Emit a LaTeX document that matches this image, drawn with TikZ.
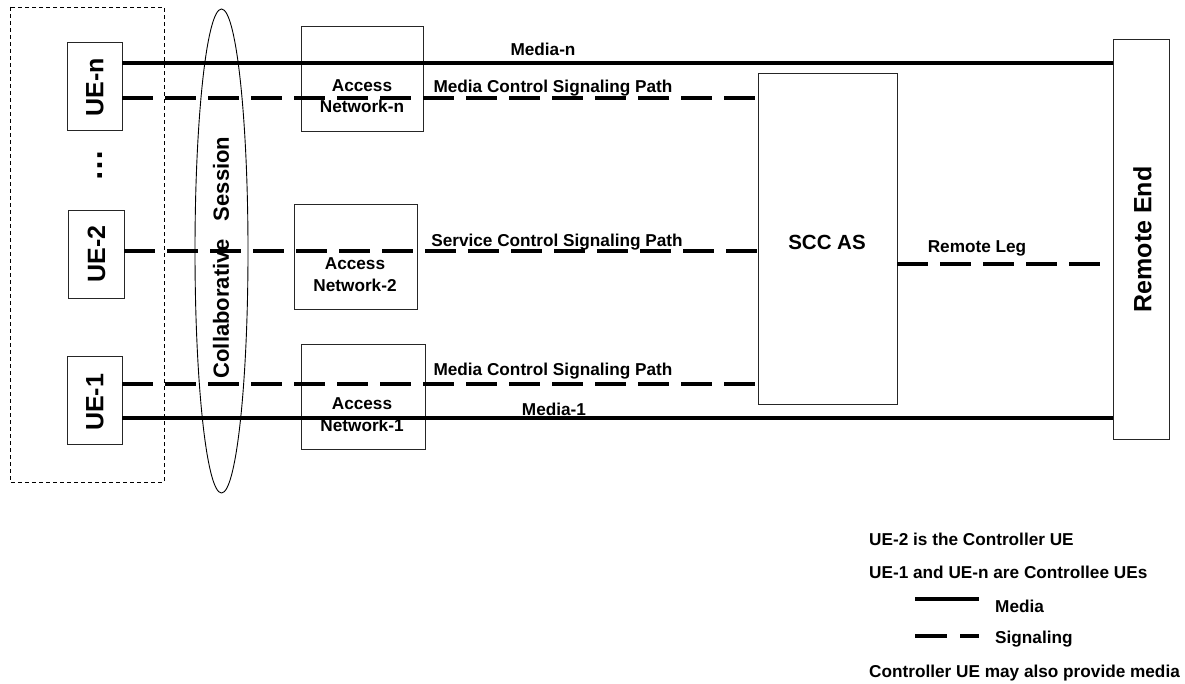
\documentclass[tikz,border=0pt]{standalone}
\usepackage{fontspec}
\setmainfont{Liberation Sans}
\usetikzlibrary{shapes.geometric}
\newcommand{\fsz}[1]{\fontsize{#1}{#1}\selectfont\bfseries}
\tikzset{
  box/.style={draw=black!85, line width=0.9pt, rectangle, inner sep=0pt},
  lbl/.style={inner sep=0pt, font=\fsz{17.2}},
  media/.style={line width=3.3pt},
  sig/.style={line width=3.3pt, dash pattern=on 31pt off 12pt},
}
\begin{document}
\begin{tikzpicture}[x=1pt,y=-1pt]
\useasboundingbox (0,0) rectangle (1185,684);
% group and ellipse
\draw[line width=0.9pt, dash pattern=on 4pt off 3pt] (10,7) rectangle (164,482);
\node[draw, line width=0.9pt, ellipse, minimum width=53pt, minimum height=484pt, inner sep=0pt] (coll) at (221.5,251) {};
% UE boxes
\node[box, minimum width=55pt, minimum height=88pt] (uen) at (94.5,86) {};
\node[box, minimum width=56pt, minimum height=88pt] (ue2) at (96,254) {};
\node[box, minimum width=55pt, minimum height=88pt] (ue1) at (94.5,400) {};
% access networks
\node[box, minimum width=122pt, minimum height=105pt] (ann) at (362,78.5) {};
\node[box, minimum width=123pt, minimum height=105pt] (an2) at (355.5,256.5) {};
\node[box, minimum width=124pt, minimum height=105pt] (an1) at (363,396.5) {};
% SCC AS and remote end
\node[box, minimum width=139pt, minimum height=331pt] (scc) at (827.5,238.5) {};
\node[box, minimum width=56pt, minimum height=400pt] (remote) at (1141,239) {};
% connectors
\draw[media] (uen.east |- 0,63) -- (remote.west |- 0,63);
\draw[sig] (uen.east |- 0,98) -- (scc.west |- 0,98);
\draw[sig] (ue2.east |- 0,251) -- (scc.west |- 0,251);
\draw[sig] (ue1.east |- 0,384) -- (scc.west |- 0,384);
\draw[media] (ue1.east |- 0,418) -- (remote.west |- 0,418);
\draw[sig, shorten >=10pt] (scc.east |- 0,264) -- (remote.west |- 0,264);
% texts in boxes
\node[inner sep=0pt, rotate=90, font=\fsz{25}] (tuen) at (95,87.5) {UE-n};
\node[inner sep=0pt, rotate=90, font=\fsz{25}] (tue2) at (96.5,254) {UE-2};
\node[inner sep=0pt, rotate=90, font=\fsz{25}] (tue1) at (95,402.5) {UE-1};
\node[inner sep=0pt, rotate=90, font=\fsz{32}] (dots) at (100,166) {…};
\node[inner sep=0pt, rotate=90, font=\fsz{22}] (tcoll) at (221,257.5) {Collaborative\hspace{18pt}Session};
\node[inner sep=0pt, rotate=90, font=\fsz{25}] (tremote) at (1142.5,239.5) {Remote End};
\node[lbl, anchor=base] (annA) at (362,92) {Access};
\node[lbl, anchor=base] (annB) at (362,113) {Network-n};
\node[lbl, anchor=base] (an2A) at (355,270) {Access};
\node[lbl, anchor=base] (an2B) at (355,292) {Network-2};
\node[lbl, anchor=base] (an1A) at (362,409) {Access};
\node[lbl, anchor=base] (an1B) at (362,431) {Network-1};
\node[inner sep=0pt, anchor=base, font=\fsz{20.5}] (tscc) at (827,250) {SCC AS};
% line labels
\node[lbl, anchor=base] (lmn) at (543,56) {Media-n};
\node[lbl, anchor=base] (lmcn) at (553,93) {Media Control Signaling Path};
\node[lbl, anchor=base] (lsc) at (557,247) {Service Control Signaling Path};
\node[lbl, anchor=base] (lmc1) at (553,375) {Media Control Signaling Path};
\node[lbl, anchor=base] (lm1) at (554,415) {Media-1};
\node[lbl, anchor=base] (lrl) at (977,253) {Remote Leg};
% legend
\node[lbl, anchor=base west] (lg1) at (869,545) {UE-2 is the Controller UE};
\node[lbl, anchor=base west] (lg2) at (869,578) {UE-1 and UE-n are Controllee UEs};
\coordinate (lma) at (915,599);
\coordinate (lmb) at (979,599);
\draw[media] (lma) -- (lmb);
\node[lbl, anchor=base west] (lg3) at (995,612) {Media};
\coordinate (lsa) at (915,636);
\coordinate (lsb) at (979,636);
\draw[line width=3.3pt, dash pattern=on 32pt off 13pt] (lsa) -- (lsb);
\node[lbl, anchor=base west] (lg4) at (995,643) {Signaling};
\node[lbl, anchor=base west] (lg5) at (869,677) {Controller UE may also provide media};
\end{tikzpicture}
\end{document}
